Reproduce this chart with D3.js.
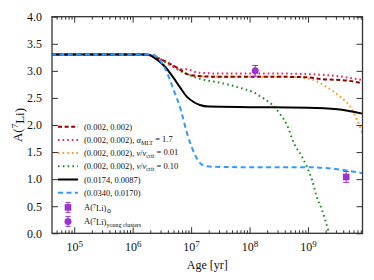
<!DOCTYPE html>
<html>
<head>
<meta charset="utf-8">
<script src="https://cdn.jsdelivr.net/npm/d3@7"></script>
<style>
  body { margin: 0; background: #fff; }
  text { font-family: "Liberation Serif", "DejaVu Serif", serif; fill: #111; }
</style>
</head>
<body>
<svg id="chart" width="374" height="280"></svg>
<script>
// model curves: [log10(age / yr), A(7Li)]
const early = [[4.6, 3.30], [6.2, 3.30], [6.4, 3.25], [6.6, 3.15], [6.8, 3.03]];
const baseRun = early.concat([[6.93, 2.94], [7.16, 2.90], [7.5, 2.89], [8.5, 2.89], [9.0, 2.88],
  [9.21, 2.85], [9.67, 2.82], [9.93, 2.77]]);
const mltRun = early.concat([[6.93, 3.03], [7.10, 2.97], [7.5, 2.95], [8.5, 2.95], [9.2, 2.93],
  [9.78, 2.86], [9.93, 2.83]]);
const rot001 = early.concat([[6.93, 2.94], [7.16, 2.90], [7.5, 2.89], [8.5, 2.89], [8.9, 2.88],
  [9.10, 2.83], [9.32, 2.70], [9.55, 2.52], [9.72, 2.34], [9.84, 2.09], [9.93, 1.85]]);
const rot010 = [[4.6, 3.30], [6.2, 3.30], [6.4, 3.25], [6.6, 3.13], [6.8, 3.01], [6.93, 2.94],
  [7.16, 2.85], [7.5, 2.78], [7.79, 2.70], [8.07, 2.60], [8.24, 2.49], [8.41, 2.35], [8.53, 2.19],
  [8.64, 2.0], [8.76, 1.66], [8.9, 1.41], [8.98, 1.23], [9.07, 0.98], [9.15, 0.67], [9.24, 0.43],
  [9.32, 0.15], [9.36, 0.0]];
const midMix = [[4.6, 3.30], [6.25, 3.30], [6.4, 3.22], [6.55, 3.08], [6.7, 2.87], [6.82, 2.68],
  [6.93, 2.52], [7.05, 2.42], [7.15, 2.37], [7.3, 2.34], [8.0, 2.33], [9.0, 2.32], [9.5, 2.29],
  [9.93, 2.21]];
const highMix = [[4.6, 3.30], [6.33, 3.30], [6.45, 3.22], [6.59, 2.96], [6.7, 2.65], [6.81, 2.33],
  [6.93, 1.85], [7.0, 1.62], [7.1, 1.38], [7.2, 1.26], [7.35, 1.23], [8.0, 1.22], [9.0, 1.22],
  [9.6, 1.17], [9.93, 1.11]];

const seriesNames = ["(0.002, 0.002)", "(0.002, 0.002), α_MLT = 1.7", "(0.002, 0.002), v/v_crit = 0.01",
  "(0.002, 0.002), v/v_crit = 0.10", "(0.0174, 0.0087)", "(0.0340, 0.0170)"];

// observations: [age yr, A, err]
const sunObs = [[4.5e9, 1.04, 0.1]];
const clusterObs = [[1.25e8, 3.0, 0.1]];

const xTickExps = [5, 6, 7, 8, 9];
const yTicks = [0, 0.5, 1.0, 1.5, 2.0, 2.5, 3.0, 3.5, 4.0];

const margin = { left: 52, right: 11.5, top: 16.7, bottom: 46.7 };
const width = 374 - margin.left - margin.right;
const height = 280 - margin.top - margin.bottom;

const svg = d3.select("#chart");
const g = svg.append("g").attr("transform", `translate(${margin.left},${margin.top})`);

const x = d3.scaleLog().domain([Math.pow(10, 4.62), Math.pow(10, 9.932)]).range([0, width]);
const y = d3.scaleLinear().domain([0, 4]).range([height, 0]);

const styles = [
  { color: "#8b0000", dash: "4,2.6", w: 2 },
  { color: "#ee2255", dash: "1.6,3", w: 2 },
  { color: "#ff9a1a", dash: "1.6,3", w: 2 },
  { color: "#1f8f1f", dash: "1.6,3.2", w: 2 },
  { color: "#000000", dash: null, w: 2 },
  { color: "#3399ff", dash: "5,3.5", w: 2 }
];
const curves = [baseRun, mltRun, rot001, rot010, midMix, highMix];

const line = d3.line()
  .x(d => x(Math.pow(10, d[0])))
  .y(d => y(d[1]))
  .curve(d3.curveMonotoneX);

const clip = svg.append("defs").append("clipPath").attr("id", "clip")
  .append("rect").attr("width", width).attr("height", height);

const plot = g.append("g").attr("clip-path", "url(#clip)");

// draw in an order resembling the original overlap
[3, 2, 0, 1, 4, 5].forEach(i => {
  plot.append("path")
    .attr("d", line(curves[i]))
    .attr("fill", "none")
    .attr("stroke", styles[i].color)
    .attr("stroke-width", styles[i].w)
    .attr("stroke-dasharray", styles[i].dash);
});

// observations
const purple = "#9b33cc";
function errBars(sel, data) {
  sel.selectAll(null).data(data).enter().append("line")
    .attr("x1", d => x(d[0])).attr("x2", d => x(d[0]))
    .attr("y1", d => y(d[1] - d[2])).attr("y2", d => y(d[1] + d[2]))
    .attr("stroke", purple).attr("stroke-width", 1);
  [-1, 1].forEach(s => {
    sel.selectAll(null).data(data).enter().append("line")
      .attr("x1", d => x(d[0]) - 3).attr("x2", d => x(d[0]) + 3)
      .attr("y1", d => y(d[1] + s * d[2])).attr("y2", d => y(d[1] + s * d[2]))
      .attr("stroke", purple).attr("stroke-width", 1);
  });
}
errBars(plot, sunObs);
errBars(plot, clusterObs);
plot.selectAll(null).data(sunObs).enter().append("rect")
  .attr("x", d => x(d[0]) - 3.3).attr("y", d => y(d[1]) - 3.3)
  .attr("width", 6.6).attr("height", 6.6).attr("fill", purple);
plot.selectAll(null).data(clusterObs).enter().append("circle")
  .attr("cx", d => x(d[0])).attr("cy", d => y(d[1])).attr("r", 3.5).attr("fill", purple);

// axes
const majorX = xTickExps.map(e => Math.pow(10, e));
const minorX = [];
for (let e = 4; e <= 9; e++) for (let m = 2; m <= 9; m++) {
  const v = m * Math.pow(10, e);
  if (v >= x.domain()[0] && v <= x.domain()[1]) minorX.push(v);
}
const axisColor = "#333";
function styleAxis(a) {
  a.select(".domain").remove();
  a.selectAll("line").attr("stroke", axisColor).attr("stroke-width", 1);
}
const sup = { 5: "⁵", 6: "⁶", 7: "⁷", 8: "⁸", 9: "⁹" };

const xb = g.append("g").attr("transform", `translate(0,${height})`)
  .call(d3.axisBottom(x).tickValues(majorX).tickSizeInner(-6).tickSizeOuter(0).tickPadding(9).tickFormat(() => ""));
styleAxis(xb);
xb.selectAll(".tick").each(function(d) {
  const t = d3.select(this).select("text").text(null).attr("font-size", 12).attr("dy", "0.71em");
  t.append("tspan").text("10");
  t.append("tspan").attr("dy", "-0.4em").attr("font-size", 9).text(String(Math.round(Math.log10(d))));
});
const xbm = g.append("g").attr("transform", `translate(0,${height})`)
  .call(d3.axisBottom(x).tickValues(minorX).tickSizeInner(-3).tickSizeOuter(0).tickFormat(""));
styleAxis(xbm);
const xt = g.append("g")
  .call(d3.axisTop(x).tickValues(majorX).tickSizeInner(-6).tickSizeOuter(0).tickFormat(""));
styleAxis(xt);
const xtm = g.append("g")
  .call(d3.axisTop(x).tickValues(minorX).tickSizeInner(-3).tickSizeOuter(0).tickFormat(""));
styleAxis(xtm);

const yl = g.append("g")
  .call(d3.axisLeft(y).tickValues(yTicks).tickSizeInner(-6).tickSizeOuter(0).tickPadding(10).tickFormat(d3.format(".1f")));
styleAxis(yl);
yl.selectAll("text").attr("font-size", 12).attr("font-family", "Liberation Serif, serif").attr("fill", "#111");
const yr = g.append("g").attr("transform", `translate(${width},0)`)
  .call(d3.axisRight(y).tickValues(yTicks).tickSizeInner(-6).tickSizeOuter(0).tickFormat(""));
styleAxis(yr);
xb.selectAll("text").attr("font-family", "Liberation Serif, serif").attr("fill", "#111");

// frame
g.append("rect").attr("width", width).attr("height", height)
  .attr("fill", "none").attr("stroke", axisColor).attr("stroke-width", 1.3);

// axis labels
g.append("text").attr("x", width / 2).attr("y", height + 36).attr("text-anchor", "middle")
  .attr("font-size", 12).text("Age [yr]");
const ylab = g.append("text").attr("transform", `translate(-30,${height / 2}) rotate(-90)`)
  .attr("text-anchor", "middle").attr("font-size", 13);
ylab.append("tspan").text("A(");
ylab.append("tspan").attr("dy", "-0.45em").attr("font-size", 9).text("7");
ylab.append("tspan").attr("dy", "0.45em").text("Li)");

// legend
const leg = g.append("g").attr("transform", "translate(6,110)");
const rowH = 13.2;
const fs = 8.5;
seriesNames.forEach((name, i) => {
  const row = leg.append("g").attr("transform", `translate(0,${i * rowH})`);
  row.append("line").attr("x1", 0).attr("x2", 20).attr("y1", 0).attr("y2", 0)
    .attr("stroke", styles[i].color).attr("stroke-width", styles[i].w)
    .attr("stroke-dasharray", styles[i].dash);
  const t = row.append("text").attr("x", 26).attr("y", 3).attr("font-size", fs);
  const parts = name.split(", ");
  const head = parts.slice(0, 2).join(", ");
  t.append("tspan").text(head);
  if (parts.length > 2) {
    const extra = parts[2];
    const m = extra.match(/^(.*?)_(\w+)(.*)$/);
    if (extra.startsWith("α")) {
      t.append("tspan").text(", ").append("tspan").attr("font-style", "italic").text("α");
      t.append("tspan").attr("dy", "0.3em").attr("font-size", 6).text("MLT");
      t.append("tspan").attr("dy", "-0.3em").text(" = 1.7");
    } else {
      t.append("tspan").text(", ");
      t.append("tspan").attr("font-style", "italic").text("v");
      t.append("tspan").text("/");
      t.append("tspan").attr("font-style", "italic").text("v");
      t.append("tspan").attr("dy", "0.3em").attr("font-size", 6).text("crit");
      t.append("tspan").attr("dy", "-0.3em").text(m[3]);
    }
  }
});
const obsRows = [{ shape: "square", label: "⊙" }, { shape: "circle", label: "young clusters" }];
obsRows.forEach((o, j) => {
  const cy = (seriesNames.length + j) * rowH + 1.5 + j * 0.8;
  const row = leg.append("g").attr("transform", `translate(10,${cy})`);
  row.append("line").attr("y1", -5).attr("y2", 5).attr("stroke", purple).attr("stroke-width", 1);
  [-5, 5].forEach(v => row.append("line").attr("x1", -2.5).attr("x2", 2.5).attr("y1", v).attr("y2", v)
    .attr("stroke", purple).attr("stroke-width", 1));
  if (o.shape === "square") row.append("rect").attr("x", -3.3).attr("y", -3.3).attr("width", 6.6).attr("height", 6.6).attr("fill", purple);
  else row.append("circle").attr("r", 3.5).attr("fill", purple);
  const t = row.append("text").attr("x", 16).attr("y", 3).attr("font-size", fs);
  t.append("tspan").text("A(");
  t.append("tspan").attr("dy", "-0.35em").attr("font-size", 6).text("7");
  t.append("tspan").attr("dy", "0.35em").text("Li)");
  t.append("tspan").attr("dy", "0.35em").attr("font-size", 6).text(o.label);
});
</script>
</body>
</html>
